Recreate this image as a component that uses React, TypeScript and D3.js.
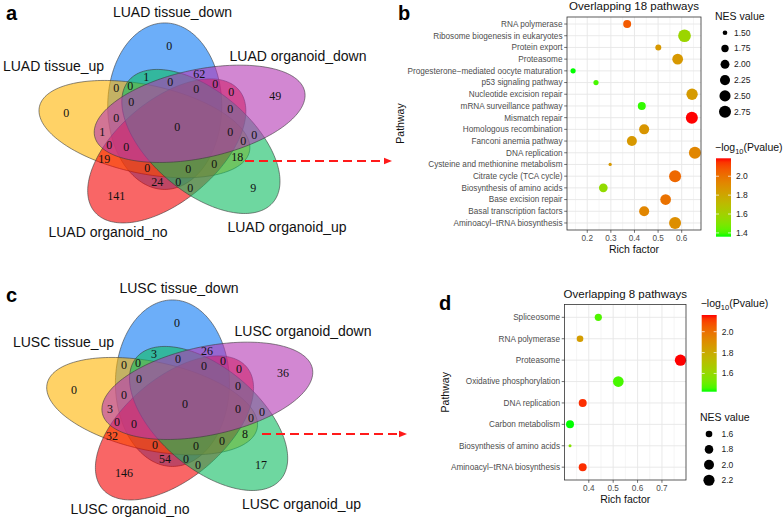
import React, { useMemo } from 'react';
import * as d3 from 'd3';

// ---------- Venn data (panels a / c) ----------
// sets in the order they sit round the diagram, clockwise from the top
const vennSets = ['tissue_down', 'organoid_down', 'organoid_up', 'organoid_no', 'tissue_up'];
const vennColors = ['#0A78F5', '#B437B4', '#0DBC61', '#F50000', '#FFB400'];
const vennDrawOrder = [0, 4, 3, 2, 1];

// region counts, index = bitmask - 1 (bit i -> vennSets[i])
const luadCounts = [
  0, 49, 62, 9, 1, 0, 0, 141,
  24, 0, 0, 0, 0, 0, 0, 0,
  0, 1, 0, 18, 0, 0, 0, 19,
  0, 0, 0, 0, 0, 0, 0,
];
const luscCounts = [
  0, 36, 26, 17, 3, 0, 0, 146,
  54, 0, 0, 0, 0, 0, 0, 0,
  0, 3, 0, 8, 0, 0, 0, 32,
  0, 0, 0, 0, 0, 0, 0,
];

// ---------- dot plot data (panel b) ----------
const bPathways = [
  'RNA polymerase', 'Ribosome biogenesis in eukaryotes', 'Protein export', 'Proteasome',
  'Progesterone\u2212mediated oocyte maturation', 'p53 signaling pathway', 'Nucleotide excision repair',
  'mRNA surveillance pathway', 'Mismatch repair', 'Homologous recombination', 'Fanconi anemia pathway',
  'DNA replication', 'Cysteine and methionine metabolism', 'Citrate cycle (TCA cycle)',
  'Biosynthesis of amino acids', 'Base excision repair', 'Basal transcription factors',
  'Aminoacyl\u2212tRNA biosynthesis',
];
const bRich = [0.369, 0.612, 0.501, 0.583, 0.14, 0.237, 0.644, 0.431, 0.643, 0.441, 0.389, 0.656, 0.297, 0.572, 0.268, 0.532, 0.441, 0.572];
const bNes = [1.84, 2.96, 1.59, 2.4, 1.53, 1.53, 2.55, 1.84, 2.75, 2.23, 2.23, 2.75, 1.47, 2.75, 1.96, 2.4, 2.23, 2.75];
const bLogP = [2.07, 1.58, 1.86, 1.86, 1.36, 1.4, 1.85, 1.38, 2.19, 1.87, 1.86, 1.93, 1.86, 2.03, 1.55, 2.0, 1.93, 1.9];
const bXTicks = [0.2, 0.3, 0.4, 0.5, 0.6];
const bNesBreaks = [1.5, 1.75, 2.0, 2.25, 2.5, 2.75];
const bNesLabels = ['1.50', '1.75', '2.00', '2.25', '2.50', '2.75'];
const bPTicks = [1.4, 1.6, 1.8, 2.0];

// ---------- dot plot data (panel d) ----------
const dPathways = [
  'Spliceosome', 'RNA polymerase', 'Proteasome', 'Oxidative phosphorylation', 'DNA replication',
  'Carbon metabolism', 'Biosynthesis of amino acids', 'Aminoacyl\u2212tRNA biosynthesis',
];
const dRich = [0.439, 0.364, 0.776, 0.521, 0.375, 0.323, 0.323, 0.375];
const dNes = [1.65, 1.6, 2.23, 2.12, 1.73, 1.73, 1.45, 1.73];
const dLogP = [1.47, 1.85, 2.16, 1.46, 2.13, 1.425, 1.56, 2.13];
const dXTicks = [0.4, 0.5, 0.6, 0.7];
const dNesBreaks = [1.6, 1.8, 2.0, 2.2];
const dNesLabels = ['1.6', '1.8', '2.0', '2.2'];
const dPTicks = [1.6, 1.8, 2.0];

const SANS = 'Liberation Sans, Arial, Helvetica, sans-serif';
const SERIF = 'Liberation Serif, Times New Roman, serif';
const NUM_SIZE = 12;

// ellipse geometry in unit space (y up), stretched to the screen by SX / SY
const SX = 237.6, SY = 181, DIST = 0.13, AX = 0.46, BX = 0.24;
const geoms = vennSets.map((_, k) => {
  const th = ((110 - 72 * k) * Math.PI) / 180;
  return { ex: DIST * Math.cos(th), ey: DIST * Math.sin(th), ph: ((90 - 72 * k) * Math.PI) / 180 };
});

function ellipsePath(cx: number, cy: number, k: number) {
  const g = geoms[k];
  const c = Math.cos(g.ph), s = Math.sin(g.ph);
  const pts = d3.range(0, 2 * Math.PI, Math.PI / 90).map((t) => {
    const u = AX * Math.cos(t), v = BX * Math.sin(t);
    return [cx + SX * (g.ex + u * c - v * s), cy - SY * (g.ey + u * s + v * c)] as [number, number];
  });
  return d3.line().curve(d3.curveLinearClosed)(pts) as string;
}

// place each region's number where it is far from every outline,
// with a slight pull toward the middle of the diagram
function regionSpots(cx: number, cy: number, counts: number[]) {
  const best = new Map<number, { x: number; y: number; m: number }>();
  for (let X = cx - 140; X <= cx + 140; X += 1) {
    for (let Y = cy - 110; Y <= cy + 100; Y += 1) {
      const ux = (X - cx) / SX, uy = -(Y - cy) / SY;
      let mask = 0, margin = Infinity;
      geoms.forEach((g, k) => {
        const dx = ux - g.ex, dy = uy - g.ey;
        const c = Math.cos(g.ph), s = Math.sin(g.ph);
        const u = dx * c + dy * s, v = -dx * s + dy * c;
        const r = Math.sqrt((u * u) / (AX * AX) + (v * v) / (BX * BX)) + 1e-9;
        if (r < 1) mask |= 1 << k;
        const gu = u / (AX * AX * r), gv = v / (BX * BX * r);
        const gx = (gu * c - gv * s) / SX, gy = -(gu * s + gv * c) / SY;
        margin = Math.min(margin, Math.abs(r - 1) / Math.hypot(gx, gy));
      });
      if (!mask) continue;
      const score = margin - 0.05 * Math.hypot(X - cx, Y - cy);
      const cur = best.get(mask);
      if (!cur || cur.m < score) best.set(mask, { x: X, y: Y, m: score });
    }
  }
  // nudge apart numbers whose boxes touch
  const labs = counts.map((n, i) => {
    const p = best.get(i + 1)!;
    return { n, x: p.x, y: p.y, w: String(n).length * NUM_SIZE * 0.5 + 1 };
  });
  const h = NUM_SIZE * 1.15;
  for (let it = 0; it < 20; it++) {
    for (let i = 0; i < labs.length; i++) {
      for (let j = i + 1; j < labs.length; j++) {
        const a = labs[i], b = labs[j];
        const ox = (a.w + b.w) / 2 - Math.abs(a.x - b.x);
        const oy = h - Math.abs(a.y - b.y);
        if (ox > 0 && oy > 0) {
          const sgn = a.y <= b.y ? -1 : 1;
          a.y += (sgn * oy) / 2;
          b.y -= (sgn * oy) / 2;
        }
      }
    }
  }
  return labs;
}

function Venn({ cx, cy, counts, prefix, names }: any) {
  const labs = useMemo(() => regionSpots(cx, cy, counts), [cx, cy, counts]);
  return (
    <g>
      {vennDrawOrder.map((k) => (
        <path key={k} d={ellipsePath(cx, cy, k)} fill={vennColors[k]} fillOpacity={0.6} stroke="#3a3a3a" strokeWidth={0.6} />
      ))}
      {labs.map((p, i) => (
        <text key={i} x={p.x} y={p.y} textAnchor="middle" dominantBaseline="central" fontFamily={SERIF} fontSize={NUM_SIZE} fill="#111">
          {p.n}
        </text>
      ))}
      {vennSets.map((s, k) => (
        <text key={s} x={names[k][0]} y={names[k][1]} textAnchor="middle" fontFamily={SANS} fontSize={14} fill="#111">
          {prefix} {s}
        </text>
      ))}
    </g>
  );
}

function DotPlot(p: any) {
  const ext = d3.extent(p.rich as number[]) as [number, number];
  const pad = (ext[1] - ext[0]) * 0.05;
  const dom: [number, number] = [ext[0] - pad, ext[1] + pad];
  const x = d3.scaleLinear().domain(dom).range([p.x0, p.x1]);
  const y = d3.scalePoint<string>().domain(p.pathways).range([p.y0, p.y1]).padding(0.6);
  const lin = d3.scaleLinear().domain(d3.extent(p.nes as number[]) as [number, number]).range([0, 1]).clamp(true);
  const rad = (v: number) => (p.sizeRange[0] + Math.sqrt(lin(v)) * (p.sizeRange[1] - p.sizeRange[0])) / 2;
  const pExt = d3.extent(p.logp as number[]) as [number, number];
  const color = d3.scaleLinear<string>().domain(pExt).range(['#00FF00', '#FF0000']).interpolate(d3.interpolateLab);
  const cb = p.cb;
  const cbY = d3.scaleLinear().domain(pExt).range([cb.y + cb.h, cb.y]);
  const step = p.xTicks[1] - p.xTicks[0];
  const minors = d3.range(p.xTicks[0] - step / 2, dom[1], step).filter((v) => v >= dom[0] && v <= dom[1]);
  const gid = `grad-${p.id}`;
  const stops = d3.range(0, 1.0001, 0.05);
  const nl = p.nesLeg;
  return (
    <g fontFamily={SANS}>
      <defs>
        <linearGradient id={gid} x1="0" y1="1" x2="0" y2="0">
          {stops.map((t) => (
            <stop key={t} offset={t} stopColor={color(pExt[0] + t * (pExt[1] - pExt[0]))} />
          ))}
        </linearGradient>
      </defs>
      <rect x={p.x0} y={p.y0} width={p.x1 - p.x0} height={p.y1 - p.y0} fill="#fff" />
      {minors.map((v) => (
        <line key={'m' + v} x1={x(v)} x2={x(v)} y1={p.y0} y2={p.y1} stroke="#EBEBEB" strokeWidth={0.5} />
      ))}
      {p.xTicks.map((v: number) => (
        <line key={'M' + v} x1={x(v)} x2={x(v)} y1={p.y0} y2={p.y1} stroke="#E6E6E6" strokeWidth={0.9} />
      ))}
      {p.pathways.map((s: string) => (
        <line key={'h' + s} x1={p.x0} x2={p.x1} y1={y(s)} y2={y(s)} stroke="#E6E6E6" strokeWidth={0.9} />
      ))}
      {p.pathways.map((s: string, i: number) => (
        <circle key={'c' + s} cx={x(p.rich[i])} cy={y(s)} r={rad(p.nes[i])} fill={color(p.logp[i])} />
      ))}
      <rect x={p.x0} y={p.y0} width={p.x1 - p.x0} height={p.y1 - p.y0} fill="none" stroke="#333" strokeWidth={0.8} />
      {p.pathways.map((s: string) => (
        <g key={'t' + s}>
          <line x1={p.x0 - 2.8} x2={p.x0} y1={y(s)} y2={y(s)} stroke="#333" strokeWidth={0.7} />
          <text x={p.x0 - 4.5} y={y(s)} dy="0.35em" textAnchor="end" fontSize={8.2} fill="#4D4D4D">
            {s}
          </text>
        </g>
      ))}
      {p.xTicks.map((v: number) => (
        <g key={'x' + v}>
          <line x1={x(v)} x2={x(v)} y1={p.y1} y2={p.y1 + 2.8} stroke="#333" strokeWidth={0.7} />
          <text x={x(v)} y={p.y1 + 11.3} textAnchor="middle" fontSize={8.2} fill="#4D4D4D">
            {d3.format('.1f')(v)}
          </text>
        </g>
      ))}
      <text x={(p.x0 + p.x1) / 2} y={p.y1 + 23.3} textAnchor="middle" fontSize={10.5} fill="#111">Rich factor</text>
      <text transform={`translate(${p.pathwayX},${(p.y0 + p.y1) / 2}) rotate(-90)`} textAnchor="middle" dy="0.35em" fontSize={10.5} fill="#111">
        Pathway
      </text>
      <text x={(p.x0 + p.x1) / 2} y={p.y0 - 7} textAnchor="middle" fontSize={11.5} fill="#111">{p.title}</text>

      {/* size legend */}
      <text x={nl.x} y={nl.titleY} fontSize={10.5} fill="#111">NES value</text>
      {p.nesBreaks.map((v: number, i: number) => (
        <g key={'n' + v}>
          <circle cx={nl.keyX} cy={nl.y0 + i * nl.dy} r={rad(v)} fill="#000" />
          <text x={nl.labelX} y={nl.y0 + i * nl.dy} dy="0.35em" fontSize={8.5} fill="#222">{p.nesLabels[i]}</text>
        </g>
      ))}

      {/* colour legend */}
      <text x={cb.x - 1} y={cb.titleY} fontSize={10.5} fill="#111">
        {'\u2212log'}
        <tspan fontSize={7.5} dy={3}>10</tspan>
        <tspan dy={-3}>(Pvalue)</tspan>
      </text>
      <rect x={cb.x} y={cb.y} width={cb.w} height={cb.h} fill={`url(#${gid})`} />
      {p.pTicks.map((v: number) => (
        <g key={'p' + v}>
          <line x1={cb.x} x2={cb.x + cb.w / 5} y1={cbY(v)} y2={cbY(v)} stroke="#fff" strokeWidth={0.7} />
          <line x1={cb.x + cb.w} x2={cb.x + (cb.w * 4) / 5} y1={cbY(v)} y2={cbY(v)} stroke="#fff" strokeWidth={0.7} />
          <text x={cb.x + cb.w + 5} y={cbY(v)} dy="0.35em" fontSize={8.5} fill="#222">{d3.format('.1f')(v)}</text>
        </g>
      ))}
    </g>
  );
}

function Arrow({ x1, x2, y }: { x1: number; x2: number; y: number }) {
  return (
    <g>
      <line x1={x1} x2={x2 - 7} y1={y} y2={y} stroke="#FF1A1A" strokeWidth={1.8} strokeDasharray="9 5" />
      <polygon points={`${x2 - 8},${y - 3.3} ${x2},${y} ${x2 - 8},${y + 3.3}`} fill="#FF1A1A" />
    </g>
  );
}

export default function App() {
  return (
    <svg width={784} height={520} style={{ position: 'absolute', left: 0, top: 0, background: '#fff' }}>
      <rect width={784} height={520} fill="#fff" />
      <Venn
        cx={175.3}
        cy={128.3}
        counts={luadCounts}
        prefix="LUAD"
        names={[[172.5, 17.3], [298, 61], [287, 232.3], [108, 237.3], [53.5, 71]]}
      />
      <Venn
        cx={183}
        cy={405.3}
        counts={luscCounts}
        prefix="LUSC"
        names={[[179, 293.3], [303, 335.7], [301.5, 509.3], [130, 514.3], [63.5, 347.3]]}
      />
      <Arrow x1={245} x2={392} y={161} />
      <Arrow x1={262} x2={407} y={434} />
      <DotPlot
        id="b"
        title="Overlapping 18 pathways"
        pathways={bPathways}
        rich={bRich}
        nes={bNes}
        logp={bLogP}
        xTicks={bXTicks}
        nesBreaks={bNesBreaks}
        nesLabels={bNesLabels}
        pTicks={bPTicks}
        sizeRange={[3.3, 12.7]}
        x0={567}
        x1={701}
        y0={17}
        y1={230}
        pathwayX={400}
        nesLeg={{ x: 715, titleY: 20, keyX: 725, y0: 32.7, dy: 15.8, labelX: 734 }}
        cb={{ x: 716, y: 158.3, w: 15, h: 78.4, titleY: 151 }}
      />
      <DotPlot
        id="d"
        title="Overlapping 8 pathways"
        pathways={dPathways}
        rich={dRich}
        nes={dNes}
        logp={dLogP}
        xTicks={dXTicks}
        nesBreaks={dNesBreaks}
        nesLabels={dNesLabels}
        pTicks={dPTicks}
        sizeRange={[3, 11.3]}
        x0={564.5}
        x1={686}
        y0={304.5}
        y1={480}
        pathwayX={445}
        nesLeg={{ x: 700, titleY: 420.5, keyX: 709, y0: 434, dy: 15.4, labelX: 721.5 }}
        cb={{ x: 701.7, y: 315, w: 15, h: 76.7, titleY: 307 }}
      />
      <g fontFamily={SANS} fontWeight="bold" fontSize={20} fill="#000">
        <text x={6} y={20}>a</text>
        <text x={398} y={20}>b</text>
        <text x={6} y={302}>c</text>
        <text x={439} y={310}>d</text>
      </g>
    </svg>
  );
}
